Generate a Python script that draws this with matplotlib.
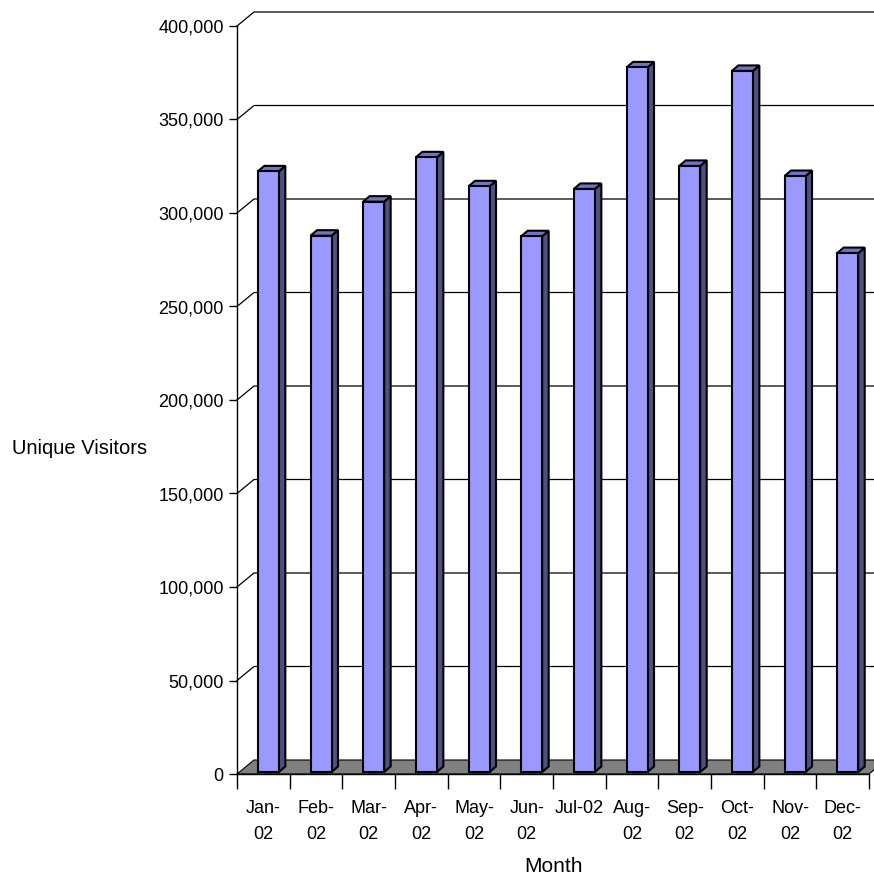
import matplotlib
matplotlib.use('Agg')
import matplotlib.pyplot as plt
from matplotlib.patches import Polygon
from matplotlib.ticker import FuncFormatter

months = ['Jan-02', 'Feb-02', 'Mar-02', 'Apr-02', 'May-02', 'Jun-02',
          'Jul-02', 'Aug-02', 'Sep-02', 'Oct-02', 'Nov-02', 'Dec-02']
tick_labels = ['Jan-\n02', 'Feb-\n02', 'Mar-\n02', 'Apr-\n02', 'May-\n02', 'Jun-\n02',
               'Jul-02', 'Aug-\n02', 'Sep-\n02', 'Oct-\n02', 'Nov-\n02', 'Dec-\n02']
visitors = [321200, 286800, 305000, 328700, 313200, 286500,
            311800, 376800, 324100, 374900, 318700, 277500]
y_ticks = list(range(0, 400001, 50000))

plt.rcParams['font.family'] = ['Liberation Sans', 'DejaVu Sans']

W, H = 874, 880
fig = plt.figure(figsize=(W / 100, H / 100), dpi=100)

# plot area in pixels: value axis at x=237, categories 52.67px wide, 0 at y=774, 400k at y=26
cat_px = 52.67
left_px, bottom_px, top_px = 237, 774, 26
ax = fig.add_axes([left_px / W, (H - bottom_px) / H,
                   (W - left_px) / W, (bottom_px - top_px) / H])
xmax = (W - left_px) / cat_px
ax.set_xlim(0, xmax)
ax.set_ylim(0, 400000)

px_x = 1 / cat_px                     # one pixel in category units
px_y = 400000 / (bottom_px - top_px)  # one pixel in value units

# depth of the back wall / floor
wall_dx, wall_dy = 17 * px_x, 14 * px_y

# floor
n = len(months)
floor = Polygon([(0, 0), (n, 0), (n + wall_dx, wall_dy), (wall_dx, wall_dy)],
                closed=True, facecolor='#808080', edgecolor='black', lw=0.8,
                zorder=1, clip_on=False)
ax.add_patch(floor)

# gridlines on the side and back walls
for v in y_ticks[1:]:
    ax.plot([0, wall_dx, xmax + 1], [v, v + wall_dy, v + wall_dy],
            color='black', lw=0.9, zorder=0, clip_on=False)

# bars: front face + side + top
bar_w = 21 * px_x
bar_shift = 5 * px_x
base = 2 * px_y
depth_dx, depth_dy = 6.5 * px_x, 5.5 * px_y
front_col, side_col, top_col = '#9999FF', '#4F4F82', '#7373C4'

centers = [i + 0.5 + bar_shift for i in range(n)]
ax.bar(centers, visitors, width=bar_w, bottom=base, color=front_col,
       edgecolor='black', lw=1.5, zorder=3)
for c, v in zip(centers, visitors):
    xl, xr = c - bar_w / 2, c + bar_w / 2
    top = base + v
    side = Polygon([(xr, base), (xr + depth_dx, base + depth_dy),
                    (xr + depth_dx, top + depth_dy), (xr, top)],
                   closed=True, facecolor=side_col, edgecolor='black', lw=1.5, zorder=2)
    lid = Polygon([(xl, top), (xr, top), (xr + depth_dx, top + depth_dy),
                   (xl + depth_dx, top + depth_dy)],
                  closed=True, facecolor=top_col, edgecolor='black', lw=1.5, zorder=2)
    ax.add_patch(side)
    ax.add_patch(lid)

# axes
for s in ['top', 'right']:
    ax.spines[s].set_visible(False)
ax.spines['left'].set_bounds(0, 400000)
ax.spines['bottom'].set_bounds(0, n)
ax.spines['left'].set_linewidth(1)
ax.spines['bottom'].set_linewidth(1)
ax.spines['bottom'].set_zorder(4)

ax.set_yticks(y_ticks)
ax.yaxis.set_major_formatter(FuncFormatter(lambda v, p: f'{int(v):,}'))
ax.tick_params(axis='y', direction='out', length=6, width=1, pad=3.5, labelsize=13)

ax.set_xticks(range(n + 1))
ax.set_xticklabels([])
ax.set_xticks([i + 0.5 for i in range(n)], minor=True)
ax.set_xticklabels(tick_labels, minor=True, linespacing=1.7)
ax.tick_params(axis='x', which='major', direction='out', length=11, width=1)
ax.tick_params(axis='x', which='minor', length=0, pad=19, labelsize=13)

fig.text(80 / W, (H - 448) / H, 'Unique Visitors', ha='center', va='center', fontsize=14.5)
fig.text(554 / W, (H - 866) / H, 'Month', ha='center', va='center', fontsize=15)

fig.savefig('out.png', dpi=100)
